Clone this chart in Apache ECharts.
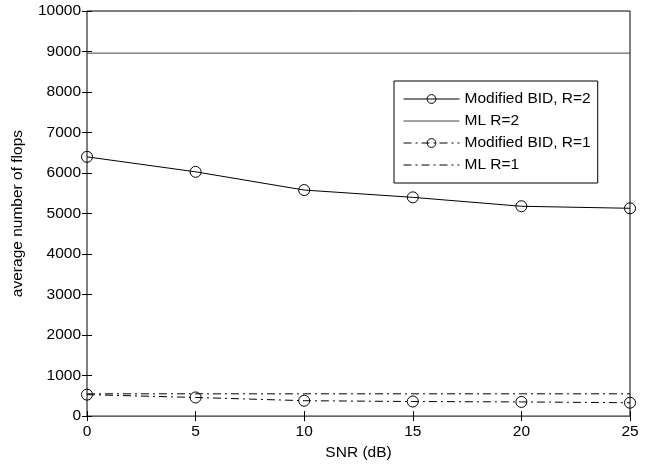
<!DOCTYPE html>
<html>
<head>
<meta charset="utf-8">
<script src="https://cdn.jsdelivr.net/npm/echarts@6/dist/echarts.min.js"></script>
<style>
  html, body { margin: 0; padding: 0; background: #fff; }
  #chart { width: 658px; height: 466px; }
</style>
</head>
<body>
<div id="chart"></div>
<script>
// SNR values (dB)
var snr = [0, 5, 10, 15, 20, 25];
// average number of flops
var bidR2 = [6400, 6030, 5580, 5400, 5180, 5130];
var mlR2 = [8960, 8960, 8960, 8960, 8960, 8960];
var bidR1 = [530, 460, 380, 360, 350, 330];
var mlR1 = [550, 550, 550, 550, 550, 550];
var seriesNames = ['Modified BID, R=2', 'ML R=2', 'Modified BID, R=1', 'ML R=1'];

var fontName = 'Liberation Sans';
var fs = 15.5;
var dashDot = [8, 4, 2, 4];

function pairs(ys) {
  return snr.map(function (x, i) { return [x, ys[i]]; });
}

function lineSeries(name, ys, withMarker, dashed, color) {
  return {
    name: name,
    type: 'line',
    data: pairs(ys),
    symbol: withMarker ? 'circle' : 'none',
    symbolSize: 11,
    showSymbol: withMarker,
    lineStyle: { color: color, width: 1, type: dashed ? dashDot : 'solid' },
    itemStyle: { color: 'rgba(0,0,0,0)', borderColor: color, borderWidth: 1 },
    animation: false
  };
}

// legend entry: thin black line, hollow marker or none
function legendItem(name, dashed, withMarker, color) {
  return {
    name: name,
    lineStyle: { color: color, width: 1, type: dashed ? dashDot : 'solid' },
    itemStyle: withMarker
      ? { color: 'rgba(0,0,0,0)', borderColor: color, borderWidth: 1 }
      : { opacity: 0 }
  };
}

var chart = echarts.init(document.getElementById('chart'));

var tickStyle = { show: true, inside: true, length: 5, lineStyle: { color: '#000' } };
var plain = function (v) { return String(v); };

chart.setOption({
  backgroundColor: '#fff',
  textStyle: { fontFamily: fontName },
  grid: {
    left: 87, right: 28, top: 11, bottom: 45,
    show: true, borderColor: '#000', borderWidth: 1, backgroundColor: 'transparent'
  },
  legend: {
    data: [
      legendItem(seriesNames[0], false, true, '#000'),
      legendItem(seriesNames[1], false, false, '#444'),
      legendItem(seriesNames[2], true, true, '#000'),
      legendItem(seriesNames[3], true, false, '#000')
    ],
    orient: 'vertical',
    left: 394,
    top: 81,
    padding: [10, 7, 10, 9],
    itemGap: 6,
    itemWidth: 56,
    itemHeight: 11,
    borderColor: '#000',
    borderWidth: 1,
    backgroundColor: '#fff',
    textStyle: { fontFamily: fontName, fontSize: fs, color: '#000', lineHeight: 16 }
  },
  xAxis: [{
    type: 'value',
    min: 0, max: 25, interval: 5,
    name: 'SNR (dB)',
    nameLocation: 'middle',
    nameGap: 27,
    nameTextStyle: { fontFamily: fontName, fontSize: fs, color: '#000' },
    axisLine: { show: false },
    axisTick: tickStyle,
    axisLabel: { fontFamily: fontName, fontSize: fs, color: '#000', margin: 8, formatter: plain },
    splitLine: { show: false }
  }, {
    type: 'value',
    position: 'top',
    min: 0, max: 25, interval: 5,
    axisLine: { show: false },
    axisTick: tickStyle,
    axisLabel: { show: false },
    splitLine: { show: false }
  }],
  yAxis: [{
    type: 'value',
    min: 0, max: 10000, interval: 1000,
    name: 'average number of flops',
    nameLocation: 'middle',
    nameGap: 61,
    nameTextStyle: { fontFamily: fontName, fontSize: fs, color: '#000' },
    axisLine: { show: false },
    axisTick: tickStyle,
    axisLabel: { fontFamily: fontName, fontSize: fs, color: '#000', margin: 6, formatter: plain },
    splitLine: { show: false }
  }, {
    type: 'value',
    position: 'right',
    min: 0, max: 10000, interval: 1000,
    axisLine: { show: false },
    axisTick: tickStyle,
    axisLabel: { show: false },
    splitLine: { show: false }
  }],
  series: [
    lineSeries(seriesNames[0], bidR2, true, false, '#000'),
    lineSeries(seriesNames[1], mlR2, false, false, '#444'),
    lineSeries(seriesNames[2], bidR1, true, true, '#000'),
    lineSeries(seriesNames[3], mlR1, false, true, '#000')
  ]
});
</script>
</body>
</html>
